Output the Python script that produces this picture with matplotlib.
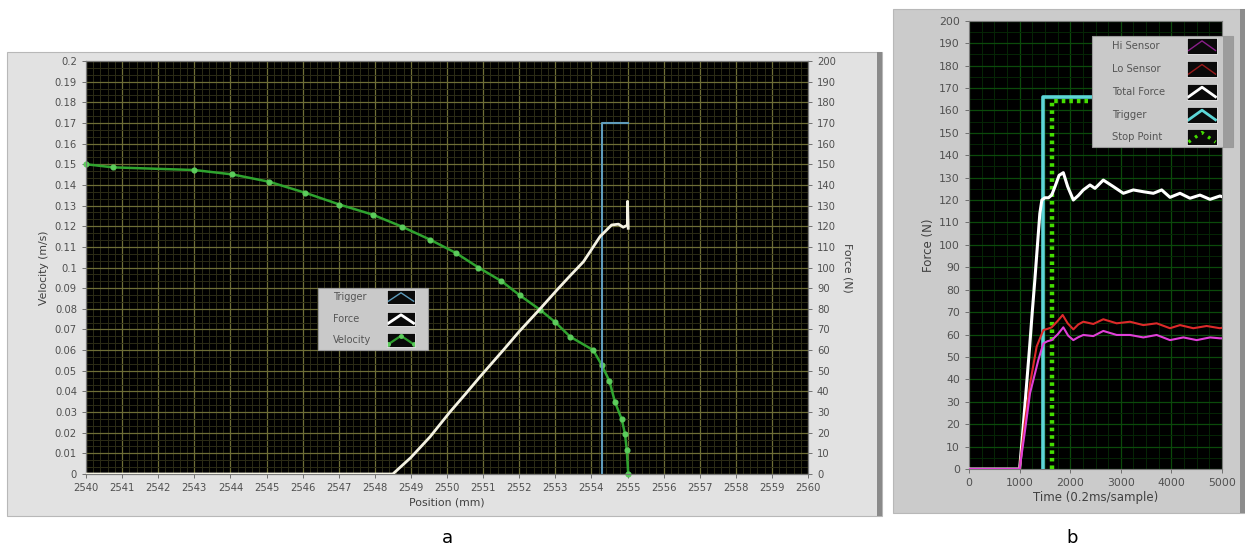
import matplotlib
matplotlib.use("Agg")
import matplotlib.pyplot as plt
from matplotlib.patches import Rectangle
from matplotlib.ticker import MultipleLocator, AutoMinorLocator, FuncFormatter

# ---------------- data: panel a (position sweep) ----------------
vel_pos = [2540.0, 2540.75, 2543.0, 2544.05, 2545.08, 2546.07, 2547.02, 2547.94,
           2548.75, 2549.53, 2550.25, 2550.87, 2551.5, 2552.02, 2552.58, 2553.0,
           2553.41, 2554.05, 2554.28, 2554.5, 2554.65, 2554.84, 2554.93, 2554.98,
           2555.02]
velocity = [0.150, 0.1485, 0.1472, 0.1451, 0.1415, 0.1362, 0.1305, 0.1256,
            0.1198, 0.1135, 0.1070, 0.1000, 0.0935, 0.0865, 0.0795, 0.0735,
            0.0665, 0.0600, 0.0530, 0.0450, 0.0350, 0.0265, 0.0195, 0.0115,
            0.0]

force_pos = [2540.0, 2548.5, 2549.0, 2549.53, 2550.08, 2550.5, 2550.91, 2551.56,
             2552.0, 2552.58, 2553.04, 2553.41, 2553.78, 2554.24, 2554.56,
             2554.75, 2554.88, 2555.0, 2555.0, 2555.02]
force_a = [0, 0, 8, 18, 30, 38.5, 47, 60, 69, 80, 89, 96, 102.8, 115, 120.6,
           121, 119.5, 120.5, 132, 119]

trig_pos = [2554.3, 2554.3, 2555.0]
trig_a = [0, 170, 170]

legend_a = ["Trigger", "Force", "Velocity"]

# ---------------- data: panel b (time record) ----------------
t_total = [0, 1000, 1050, 1100, 1150, 1200, 1250, 1300, 1350, 1400, 1440, 1500,
           1570, 1634, 1700, 1780, 1864, 1950, 2062, 2160, 2259, 2391, 2490,
           2654, 2852, 3050, 3247, 3445, 3643, 3808, 3972, 4170, 4368, 4565,
           4763, 4960, 5000]
f_total = [0, 0, 13, 27, 41, 55, 70, 84, 99, 114, 120, 121, 121, 122.2, 126,
           131, 132.2, 126, 120, 122, 124.5, 126.7, 125.2, 128.9, 126, 123,
           124.5, 123.7, 123, 124.5, 121.2, 123, 120.8, 122.2, 120.3, 121.8,
           121.5]

t_lo = [0, 1000, 1100, 1206, 1337, 1469, 1550, 1634, 1750, 1851, 1950, 2062,
        2160, 2259, 2457, 2654, 2918, 3182, 3445, 3709, 3972, 4170, 4433, 4697,
        4960, 5000]
f_lo = [0, 0, 20, 38, 54.6, 62, 62.5, 63.2, 66, 68.7, 65, 62.3, 64.5, 65.7,
        64.7, 66.8, 65, 65.7, 64.2, 65, 62.8, 64.2, 62.8, 63.8, 62.8, 63]

t_hi = [0, 1000, 1100, 1206, 1370, 1469, 1550, 1634, 1750, 1864, 1960, 2062,
        2160, 2259, 2457, 2654, 2918, 3182, 3445, 3709, 3972, 4236, 4500, 4763,
        4960, 5000]
f_hi = [0, 0, 16, 33.8, 48.6, 56, 57, 57.5, 60, 63.2, 59.5, 57.5, 58.8, 59.8,
        59.3, 61.6, 59.8, 59.8, 58.7, 59.8, 57.5, 58.7, 57.5, 58.7, 58.3, 58.3]

t_trig = [1456, 1456, 5000]
f_trig = [0, 166, 166]

t_stop = [1634, 1634, 5000]
f_stop = [0, 164, 164]

legend_b = ["Hi Sensor", "Lo Sensor", "Total Force", "Trigger", "Stop Point"]

# ---------------- styling ----------------
TICK_C = "#505050"
LABEL_C = "#404040"
plt.rcParams["font.family"] = ["DejaVu Sans"]

W, H = 1245, 550
fig = plt.figure(figsize=(W / 100, H / 100), dpi=100)
fig.patch.set_facecolor("white")


def fx(px):
    return px / W


def fy(py):
    return 1 - py / H


def panel(x0, y0, x1, y1, face, edge_dark):
    fig.patches.append(Rectangle((fx(x0), fy(y1)), fx(x1 - x0), (y1 - y0) / H,
                                 transform=fig.transFigure, facecolor=face,
                                 edgecolor="#b8b8b8", lw=0.8, zorder=-2))
    fig.patches.append(Rectangle((fx(x1 - 5), fy(y1)), fx(5), (y1 - y0) / H,
                                 transform=fig.transFigure, facecolor=edge_dark,
                                 edgecolor="none", zorder=-1))


def style_axis(ax, maj_c, min_c):
    ax.set_facecolor("black")
    ax.grid(which="major", color=maj_c, lw=0.9)
    ax.grid(which="minor", color=min_c, lw=0.7)
    ax.set_axisbelow(True)
    for s in ax.spines.values():
        s.set_color("#7a7a7a")
        s.set_linewidth(0.8)
    ax.tick_params(which="major", direction="out", length=3, width=0.7,
                   color="#707070", labelcolor=TICK_C)
    ax.tick_params(which="minor", length=0)


def trim(v, pos=None):
    return f"{v:.2f}".rstrip("0").rstrip(".")


def legend_box(x0, y0, x1, y1, rows, text_x, sw_x0, sw_x1, sw_h, names, styles,
               fsize, strip=False):
    fig.patches.append(Rectangle((fx(x0), fy(y1)), fx(x1 - x0), (y1 - y0) / H,
                                 transform=fig.transFigure, facecolor="#c9c9c9",
                                 edgecolor="#9a9a9a", lw=0.8, zorder=20))
    if strip:
        fig.patches.append(Rectangle((fx(x1 - 10), fy(y1)), fx(10), (y1 - y0) / H,
                                     transform=fig.transFigure, facecolor="#9c9c9c",
                                     edgecolor="none", zorder=21))
    for yc, name, st in zip(rows, names, styles):
        fig.text(fx(text_x), fy(yc), name, fontsize=fsize, color="#555555",
                 va="center", ha="left", zorder=22)
        sax = fig.add_axes([fx(sw_x0), fy(yc + sw_h / 2), fx(sw_x1 - sw_x0), sw_h / H])
        sax.set_zorder(30)
        sax.set_facecolor("#0a0a0a")
        sax.set_xlim(0, 1)
        sax.set_ylim(0, 1)
        sax.set_xticks([])
        sax.set_yticks([])
        for s in sax.spines.values():
            s.set_color("#dddddd")
            s.set_linewidth(0.6)
        sax.plot([0.05, 0.5, 0.95], [0.2, 0.8, 0.2], **st)


# ================= panel a =================
panel(7, 52, 882, 516, "#e2e2e2", "#8a8a8a")

axv = fig.add_axes([fx(86), fy(474), fx(808 - 86), (474 - 61) / H])
axv.set_xlim(2540, 2560)
axv.set_ylim(0, 0.2)
axv.xaxis.set_major_locator(MultipleLocator(1))
axv.xaxis.set_minor_locator(AutoMinorLocator(5))
axv.yaxis.set_major_locator(MultipleLocator(0.01))
axv.yaxis.set_minor_locator(AutoMinorLocator(3))
axv.yaxis.set_major_formatter(FuncFormatter(trim))
axv.xaxis.set_major_formatter(FuncFormatter(lambda v, p: f"{v:.0f}"))
style_axis(axv, "#6e6e36", "#2c2c16")
axv.tick_params(labelsize=7.2)

axf = axv.twinx()
axf.set_ylim(0, 200)
axf.yaxis.set_major_locator(MultipleLocator(10))
axf.patch.set_visible(False)
for s in axf.spines.values():
    s.set_color("#7a7a7a")
axf.tick_params(direction="out", length=3, width=0.7, color="#707070",
                labelcolor=TICK_C, labelsize=7.2)

axv.plot(vel_pos, velocity, color="#2fa32f", lw=1.8, marker="o", markersize=3.4,
         markerfacecolor="#5ccc5c", markeredgecolor="#5ccc5c", zorder=3,
         clip_on=False)
axf.plot(trig_pos, trig_a, color="#5f9cbc", lw=1.5, zorder=2)
axf.plot(force_pos, force_a, color="#f4f2e2", lw=2.0, zorder=4)

axv.set_xlabel("Position (mm)", fontsize=7.8, color=LABEL_C, labelpad=3)
axv.set_ylabel("Velocity (m/s)", fontsize=7.8, color=LABEL_C, labelpad=4)
axf.set_ylabel("Force (N)", fontsize=7.8, color=LABEL_C, rotation=270,
               labelpad=12)

legend_box(318, 288, 428, 350, [297, 319, 340], 333, 387, 415, 14, legend_a,
           [dict(color="#5f9cbc", lw=1.0),
            dict(color="white", lw=2.0),
            dict(color="#2e9e2e", lw=1.6, marker="o", markersize=2.5,
                 markerfacecolor="#5ccc5c", markeredgecolor="#5ccc5c")],
           7)

# ================= panel b =================
panel(893, 9, 1245, 513, "#cbcbcb", "#8c8c8c")

axb = fig.add_axes([fx(969), fy(469), fx(1222 - 969), (469 - 20.7) / H])
axb.set_xlim(0, 5000)
axb.set_ylim(0, 200)
axb.xaxis.set_major_locator(MultipleLocator(1000))
axb.xaxis.set_minor_locator(AutoMinorLocator(4))
axb.yaxis.set_major_locator(MultipleLocator(10))
axb.yaxis.set_minor_locator(AutoMinorLocator(2))
style_axis(axb, "#0b4a0b", "#062606")
axb.tick_params(labelsize=7.8)

axb.plot(t_stop, f_stop, color="#44dd00", lw=3.2, linestyle=(0, (0.8, 0.9)),
         zorder=3)
axb.plot(t_trig, f_trig, color="#5cd6d6", lw=2.6, zorder=4)
axb.plot(t_total, f_total, color="white", lw=2.2, zorder=5)
axb.plot(t_lo, f_lo, color="#dd2a2a", lw=1.5, zorder=6)
axb.plot(t_hi, f_hi, color="#e040d8", lw=1.5, zorder=7)

axb.set_xlabel("Time (0.2ms/sample)", fontsize=8.5, color=LABEL_C, labelpad=2)
axb.set_ylabel("Force (N)", fontsize=8.5, color=LABEL_C, labelpad=3)

legend_box(1092, 36, 1233, 147, [45.7, 69.3, 92, 115, 137.3], 1112, 1187, 1217,
           16, legend_b,
           [dict(color="#8a1f8a", lw=1.0),
            dict(color="#9a1a1a", lw=1.0),
            dict(color="white", lw=2.0),
            dict(color="#5cd6d6", lw=2.0),
            dict(color="#44dd00", lw=2.4, linestyle=(0, (0.8, 1.6)))],
           7.2, strip=True)

# panel captions
fig.text(fx(447), fy(538), "a", fontsize=13, ha="center", va="center",
         color="black")
fig.text(fx(1072), fy(538), "b", fontsize=13, ha="center", va="center",
         color="black")

fig.savefig("out.png", dpi=100, facecolor="white")
